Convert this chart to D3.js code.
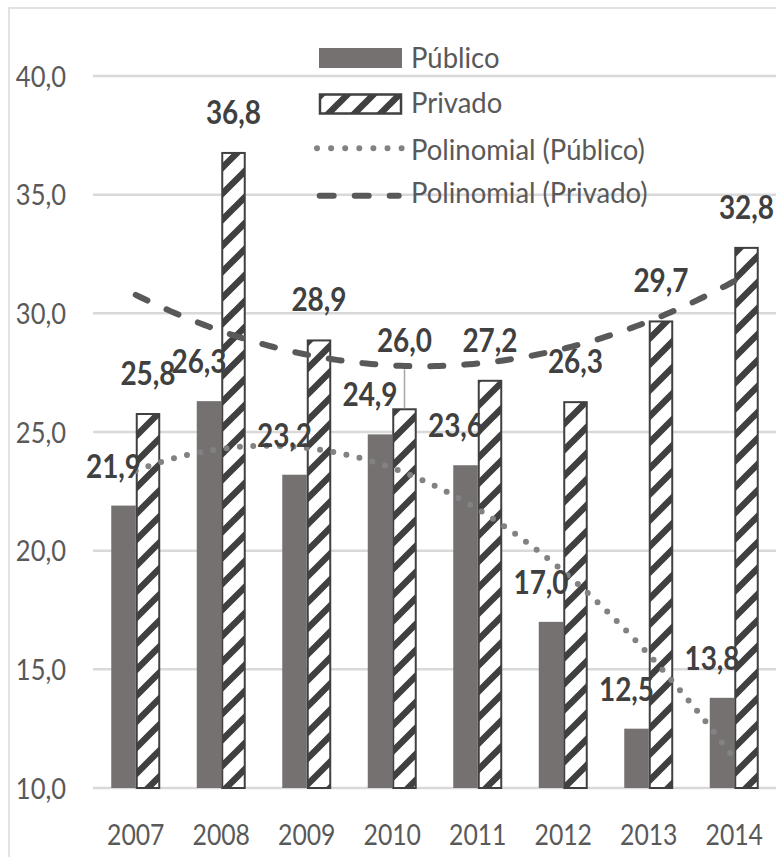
<!DOCTYPE html>
<html>
<head>
<meta charset="utf-8">
<script src="https://cdn.jsdelivr.net/npm/d3@7"></script>
<style>
  html, body { margin: 0; padding: 0; background: #ffffff; }
  svg { display: block; }
</style>
</head>
<body>
<svg id="chart" width="776" height="857"></svg>
<script>
// ---------- data ----------
const years = ["2007", "2008", "2009", "2010", "2011", "2012", "2013", "2014"];
const publico = [21.9, 26.3, 23.2, 24.9, 23.6, 17.0, 12.5, 13.8];
const privado = [25.8, 36.8, 28.9, 26.0, 27.2, 26.3, 29.7, 32.8];
const seriesNames = ["Público", "Privado"];
const trendNames = ["Polinomial (Público)", "Polinomial (Privado)"];
const yTicks = [10, 15, 20, 25, 30, 35, 40];

// ---------- layout / style ----------
const W = 776, H = 857;
const plot = { left: 93, right: 777, top: 76, bottom: 788 };
const FONT = "Lato, 'Open Sans', sans-serif";
const C = {
  pub: "#767171", priv: "#404040", grid: "#d9d9d9", text: "#595959",
  label: "#404040", dot: "#828282", dash: "#595959", border: "#d9d9d9"
};
const labelGap = 28;         // px between bar top and label baseline
const pubLabelNudge = -10;   // public labels sit slightly left
const liftedLabel = { series: 1, index: 3, lift: 28 }; // "26,0" moved up with a leader line

const svg = d3.select("#chart");
const fmt = v => d3.format(".1f")(v).replace(".", ",");

// chart border
svg.append("rect").attr("x", 9).attr("y", 8).attr("width", W + 20).attr("height", H + 20)
  .attr("fill", "#fff").attr("stroke", C.border).attr("stroke-width", 1.5);

// hatch pattern (wide upward diagonal)
const P = 26;
const defs = svg.append("defs");
const pat = defs.append("pattern").attr("id", "hatch").attr("patternUnits", "userSpaceOnUse")
  .attr("width", P).attr("height", P);
pat.append("rect").attr("width", P).attr("height", P).attr("fill", "#fff");
pat.append("path")
  .attr("d", `M0,${P} L${P},0 M${-P/2},${P/2} L${P/2},${-P/2} M${P/2},${1.5*P} L${1.5*P},${P/2}`)
  .attr("stroke", C.priv).attr("stroke-width", 6.5);

// scales
const y = d3.scaleLinear().domain([10, 40]).range([plot.bottom, plot.top]);
const x = d3.scaleBand().domain(years).range([plot.left, plot.right])
  .paddingInner(0.427).paddingOuter(0.2135);
const xs = d3.scaleBand().domain(seriesNames).range([0, x.bandwidth()]);

// text helper (narrow look via horizontal scale)
function txt(g, px, py, s, o) {
  return g.append("text")
    .attr("transform", `translate(${px},${py}) scale(${o.sx},1)`)
    .attr("text-anchor", o.anchor || "start")
    .attr("font-family", FONT).attr("font-size", o.size)
    .attr("font-weight", o.weight || 400).attr("fill", o.fill)
    .text(s);
}

// gridlines
const grid = svg.append("g");
grid.selectAll("line").data(yTicks).join("line")
  .attr("x1", plot.left).attr("x2", plot.right)
  .attr("y1", d => y(d)).attr("y2", d => y(d))
  .attr("stroke", C.grid).attr("stroke-width", 2.5);

// y tick labels
const yl = svg.append("g");
yTicks.forEach(t => txt(yl, 66, y(t) + 10.5, fmt(t), { size: 29.3, sx: 0.87, anchor: "end", fill: C.text }));

// x labels
const xl = svg.append("g");
years.forEach(yr => txt(xl, x(yr) + x.bandwidth() / 2, 845, yr, { size: 29.5, sx: 0.84, anchor: "middle", fill: C.text }));

// bars
const rows = years.map((yr, i) => ({ yr, vals: [publico[i], privado[i]] }));
const barsG = svg.append("g");
rows.forEach(r => {
  r.vals.forEach((v, s) => {
    const bx = x(r.yr) + xs(seriesNames[s]);
    if (s === 0) {
      barsG.append("rect").attr("x", bx).attr("y", y(v))
        .attr("width", xs.bandwidth()).attr("height", y(10) - y(v))
        .attr("fill", C.pub);
    } else {
      barsG.append("rect").attr("x", bx + 1).attr("y", y(v) + 1)
        .attr("width", xs.bandwidth() - 2).attr("height", y(10) - y(v) - 1)
        .attr("fill", "url(#hatch)").attr("stroke", C.priv).attr("stroke-width", 2);
    }
  });
});

// polynomial (order 2) least-squares trend, as Excel computes it
function polyFit(vals, order) {
  const n = order + 1;
  const A = Array.from({ length: n }, () => Array(n + 1).fill(0));
  vals.forEach((v, i) => {
    const t = i + 1;
    for (let r = 0; r < n; r++) {
      for (let c = 0; c < n; c++) A[r][c] += Math.pow(t, r + c);
      A[r][n] += v * Math.pow(t, r);
    }
  });
  for (let i = 0; i < n; i++) {
    let m = i;
    for (let k = i + 1; k < n; k++) if (Math.abs(A[k][i]) > Math.abs(A[m][i])) m = k;
    [A[i], A[m]] = [A[m], A[i]];
    for (let k = 0; k < n; k++) {
      if (k === i) continue;
      const f = A[k][i] / A[i][i];
      for (let c = i; c <= n; c++) A[k][c] -= f * A[i][c];
    }
  }
  const coef = A.map((row, i) => row[n] / row[i]);
  return t => coef.reduce((s, c, k) => s + c * Math.pow(t, k), 0);
}
const xPos = t => x(years[0]) + x.bandwidth() / 2 + (t - 1) * x.step();
const curve = f => d3.range(1, years.length + 0.001, 0.05).map(t => [xPos(t), y(f(t))]);
const line = d3.line();
const trendG = svg.append("g").attr("fill", "none").attr("stroke-linecap", "round");
trendG.append("path").attr("d", line(curve(polyFit(publico, 2))))
  .attr("stroke", C.dot).attr("stroke-width", 6).attr("stroke-dasharray", "0 13.4");
trendG.append("path").attr("d", line(curve(polyFit(privado, 2))))
  .attr("stroke", C.dash).attr("stroke-width", 6).attr("stroke-dasharray", "13 21");

// data labels
const lg = svg.append("g");
rows.forEach((r, i) => {
  r.vals.forEach((v, s) => {
    const cx = x(r.yr) + xs(seriesNames[s]) + xs.bandwidth() / 2 + (s === 0 ? pubLabelNudge : 0);
    let by = y(v) - labelGap;
    if (s === liftedLabel.series && i === liftedLabel.index) {
      by -= liftedLabel.lift;
      lg.append("line").attr("x1", cx).attr("x2", cx).attr("y1", by + 17).attr("y2", y(v))
        .attr("stroke", "#a6a6a6").attr("stroke-width", 1.5);
    }
    txt(lg, cx, by, fmt(v), { size: 32.5, sx: 0.86, anchor: "middle", weight: 700, fill: C.label });
  });
});

// legend
const leg = svg.append("g");
leg.append("rect").attr("x", 319).attr("y", 48).attr("width", 83).attr("height", 20).attr("fill", C.pub);
leg.append("rect").attr("x", 320).attr("y", 94.5).attr("width", 81).attr("height", 19)
  .attr("fill", "url(#hatch)").attr("stroke", C.priv).attr("stroke-width", 2.5);
leg.append("line").attr("x1", 317).attr("x2", 401.7).attr("y1", 148.3).attr("y2", 148.3)
  .attr("stroke", C.dot).attr("stroke-width", 6).attr("stroke-linecap", "round").attr("stroke-dasharray", "0 14.1");
leg.append("line").attr("x1", 319.7).attr("x2", 398.7).attr("y1", 195.7).attr("y2", 195.7)
  .attr("stroke", C.dash).attr("stroke-width", 6).attr("stroke-linecap", "round").attr("stroke-dasharray", "14 21");
const legTexts = [seriesNames[0], seriesNames[1], trendNames[0], trendNames[1]];
const legBase = [67.7, 113.3, 160, 203.3];
legTexts.forEach((t, i) => txt(leg, 411, legBase[i], t, { size: 28, sx: 0.98, fill: C.text }));
</script>
</body>
</html>
